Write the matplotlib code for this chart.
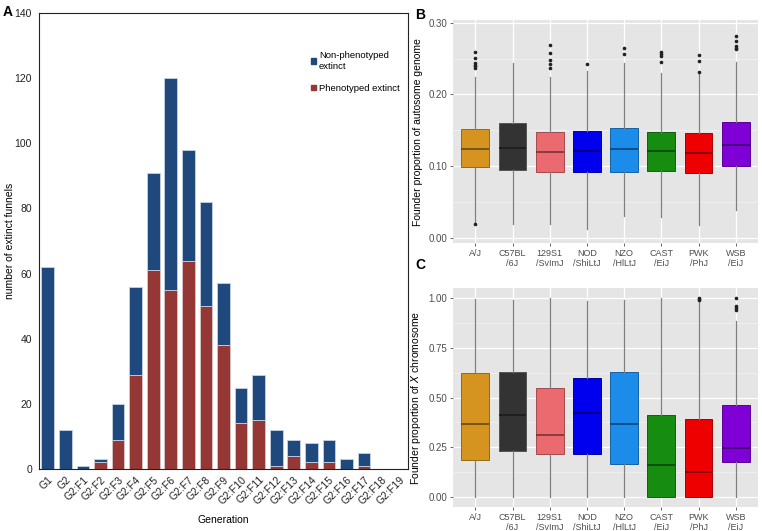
import matplotlib.pyplot as plt
from matplotlib.patches import Patch
from matplotlib.colors import to_rgb

plt.rcParams["font.family"] = ["Liberation Sans", "DejaVu Sans"]

# ---- panel A data
generations = ["G1", "G2", "G2:F1", "G2:F2", "G2:F3", "G2:F4", "G2:F5", "G2:F6", "G2:F7",
               "G2:F8", "G2:F9", "G2:F10", "G2:F11", "G2:F12", "G2:F13", "G2:F14",
               "G2:F15", "G2:F16", "G2:F17", "G2:F18", "G2:F19"]
phenotyped = [0, 0, 0, 2, 9, 29, 61, 55, 64, 50, 38, 14, 15, 1, 4, 2, 2, 0, 1, 0, 0]
non_phenotyped = [62, 12, 1, 1, 11, 27, 30, 65, 34, 32, 19, 11, 14, 11, 5, 6, 7, 3, 4, 0, 0]

# ---- panel B/C data (box stats)
strains = ["A/J", "C57BL\n/6J", "129S1\n/SvImJ", "NOD\n/ShiLtJ", "NZO\n/HlLtJ",
           "CAST\n/EiJ", "PWK\n/PhJ", "WSB\n/EiJ"]
strain_colors = ["#D4941F", "#333333", "#EB6A70", "#0000EE", "#1B8CEA",
                 "#168C10", "#EE0000", "#7F00D6"]

auto_q1 = [0.0986, 0.0946, 0.0923, 0.0914, 0.0914, 0.0932, 0.0901, 0.1000]
auto_med = [0.1243, 0.1257, 0.1198, 0.1207, 0.1234, 0.1207, 0.1189, 0.1302]
auto_q3 = [0.1518, 0.1604, 0.1482, 0.1491, 0.1527, 0.1482, 0.1459, 0.1613]
auto_lo = [0.022, 0.0198, 0.0198, 0.0122, 0.0311, 0.0288, 0.018, 0.0383]
auto_hi = [0.2239, 0.2441, 0.2248, 0.2329, 0.2441, 0.2297, 0.228, 0.2455]
auto_out = [[0.019, 0.2586, 0.2505, 0.2437, 0.241, 0.2396, 0.2374],
            [],
            [0.2689, 0.2572, 0.2486, 0.2423, 0.2369],
            [0.2419],
            [0.264, 0.2563],
            [0.2595, 0.2563, 0.2532, 0.2446],
            [0.2545, 0.2459, 0.2311],
            [0.281, 0.2748, 0.268, 0.2649, 0.2626]]

x_q1 = [0.1862, 0.2332, 0.2164, 0.2181, 0.1644, 0.0, 0.0, 0.1762]
x_med = [0.3674, 0.4144, 0.3138, 0.4228, 0.3674, 0.1628, 0.1242, 0.2466]
x_q3 = [0.6208, 0.6275, 0.5487, 0.5973, 0.6275, 0.4111, 0.391, 0.4631]
x_lo = [0, 0, 0, 0, 0, 0, 0, 0]
x_hi = [0.995, 0.99, 1.0, 0.987, 0.99, 1.0, 0.983, 0.8826]
x_out = [[], [], [], [], [], [], [0.99, 0.995, 1.0], [1.0, 0.961, 0.95, 0.94]]


def shade(c, f):
    r, g, b = to_rgb(c)
    return (r * f, g * f, b * f)


fig = plt.figure(figsize=(7.62, 5.31), dpi=100)

# ---------------- panel A
ax = fig.add_axes([0.0512, 0.1168, 0.4842, 0.8587])
pos = range(len(generations))
ax.bar(pos, phenotyped, width=0.72, color="#953735", edgecolor="#D9C6C6", linewidth=0.6,
       label="Phenotyped extinct")
ax.bar(pos, non_phenotyped, width=0.72, bottom=phenotyped, color="#1F497D",
       edgecolor="#C6D2E2", linewidth=0.6, label="Non-phenotyped\nextinct")
ax.set_xlim(-0.5, len(generations) - 0.5)
ax.set_ylim(0, 140)
ax.set_yticks(range(0, 141, 20))
ax.set_xticks(list(pos))
ax.set_xticklabels(generations, rotation=45, ha="right", rotation_mode="anchor")
ax.tick_params(length=0, labelsize=7.5, colors="#222222", pad=5)
ax.tick_params(axis="x", pad=4)
for s in ax.spines.values():
    s.set_linewidth(0.8)
    s.set_color("#222222")
ax.set_xlabel("Generation", fontsize=7.5, labelpad=6)
ax.set_ylabel("number of extinct funnels", fontsize=7.5, va="center")
ax.yaxis.set_label_coords(-0.078, 0.5)
handles = [Patch(color="#1F497D"), Patch(color="#953735")]
ax.legend(handles, ["Non-phenotyped\nextinct", "Phenotyped extinct"], frameon=False,
          fontsize=6.8, loc="upper left", bbox_to_anchor=(0.715, 0.935),
          handlelength=0.5, handleheight=0.5, handletextpad=0.3, labelspacing=1.4)
fig.text(0.004, 0.99, "A", fontsize=10, fontweight="bold", va="top")


def boxpanel(rect, q1, med, q3, lo, hi, out, ylim, yticks, ylabels, minor):
    ax = fig.add_axes(rect)
    ax.set_facecolor("#E5E5E5")
    for m in minor:
        ax.axhline(m, color="#F2F2F2", lw=0.5, zorder=0)
    for t in yticks:
        ax.axhline(t, color="white", lw=0.9, zorder=0)
    for i in range(len(strains)):
        ax.axvline(i + 1, color="white", lw=0.9, zorder=0)
    stats = []
    for i in range(len(strains)):
        stats.append(dict(med=med[i], q1=q1[i], q3=q3[i], whislo=lo[i], whishi=hi[i],
                          fliers=out[i]))
    bp = ax.bxp(stats, positions=range(1, len(strains) + 1), widths=0.75,
                patch_artist=True, showcaps=False,
                whiskerprops=dict(color="#7F7F7F", lw=0.9),
                medianprops=dict(lw=1.1),
                flierprops=dict(marker="o", markersize=1.6, markerfacecolor="#222222",
                                markeredgecolor="#222222"))
    for patch, mline, c in zip(bp["boxes"], bp["medians"], strain_colors):
        patch.set_facecolor(c)
        patch.set_edgecolor(shade(c, 0.7) if c != "#333333" else "#555555")
        patch.set_linewidth(0.7)
        patch.set_zorder(2)
        mline.set_color(shade(c, 0.45) if c != "#333333" else "#1A1A1A")
        mline.set_zorder(3)
    ax.set_xlim(0.4, len(strains) + 0.6)
    ax.set_ylim(*ylim)
    ax.set_yticks(yticks)
    ax.set_yticklabels(ylabels)
    ax.set_xticks(range(1, len(strains) + 1))
    ax.set_xticklabels(strains)
    ax.tick_params(labelsize=6.5, colors="#4D4D4D", length=2, width=0.6, pad=2)
    ax.tick_params(axis="y", labelsize=7)
    for s in ax.spines.values():
        s.set_visible(False)
    return ax


axb = boxpanel([0.5945, 0.5424, 0.4003, 0.419], auto_q1, auto_med, auto_q3, auto_lo,
               auto_hi, auto_out, (-0.007, 0.303), [0.0, 0.1, 0.2, 0.3],
               ["0.00", "0.10", "0.20", "0.30"], [0.05, 0.15, 0.25])
axb.set_ylabel("Founder proportion of autosome genome", fontsize=7.5, labelpad=4)
fig.text(0.545, 0.985, "B", fontsize=10, fontweight="bold", va="top")

axc = boxpanel([0.5945, 0.0452, 0.4003, 0.4124], x_q1, x_med, x_q3, x_lo, x_hi, x_out,
               (-0.05, 1.05), [0.0, 0.25, 0.5, 0.75, 1.0],
               ["0.00", "0.25", "0.50", "0.75", "1.00"], [0.125, 0.375, 0.625, 0.875])
axc.set_ylabel("Founder proportion of $\\it{X}$ chromosome", fontsize=7.5, labelpad=4)
fig.text(0.545, 0.515, "C", fontsize=10, fontweight="bold", va="top")

fig.savefig("out.png", dpi=100)
